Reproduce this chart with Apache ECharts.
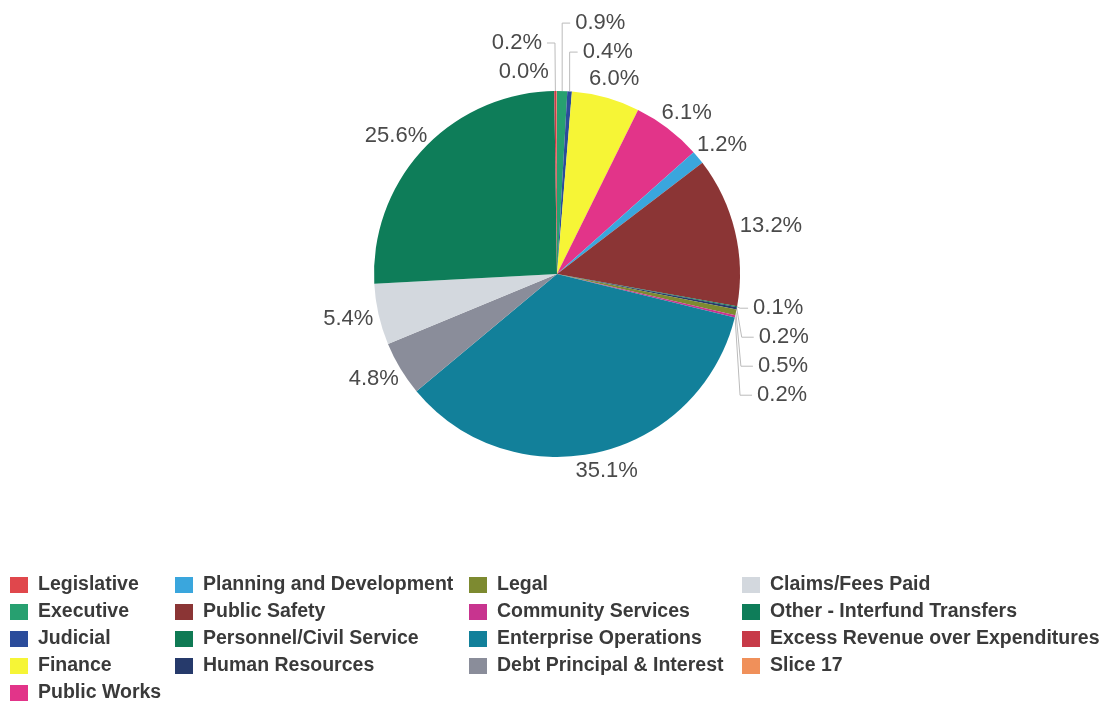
<!DOCTYPE html>
<html>
<head>
<meta charset="utf-8">
<script src="https://cdn.jsdelivr.net/npm/echarts@6/dist/echarts.min.js"></script>
<style>
  html, body { margin: 0; padding: 0; background: #fff; }
  #chart { width: 1108px; height: 706px; }
</style>
</head>
<body>
<div id="chart"></div>
<script>
// categories in legend order (clockwise from 12 o'clock)
var categories = [
  "Legislative", "Executive", "Judicial", "Finance", "Public Works",
  "Planning and Development", "Public Safety", "Personnel/Civil Service",
  "Human Resources", "Legal", "Community Services", "Enterprise Operations",
  "Debt Principal & Interest", "Claims/Fees Paid", "Other - Interfund Transfers",
  "Excess Revenue over Expenditures", "Slice 17"
];
// percent of total (Slice 17 shows as 0.0%)
var values = [0, 0.9, 0.4, 6.0, 6.1, 1.2, 13.2, 0.1, 0.2, 0.5, 0.2, 35.1, 4.8, 5.4, 25.6, 0.2, 0.04];
var colors = [
  "#e0474c", "#27a070", "#2b4c9b", "#f6f536", "#e23489",
  "#3aa6dd", "#8b3535", "#0f7a54", "#263a6b", "#7d8a30",
  "#c8348f", "#12809a", "#8a8d9a", "#d3d8de", "#0e7d59",
  "#c73a48", "#f0905a"
];
var legendCols = [
  categories.slice(0, 5),
  categories.slice(5, 9),
  categories.slice(9, 13),
  categories.slice(13, 17)
];

// pie geometry
var cx = 557, cy = 274, R = 183;

// leader lines for the crowded thin slices
var leaderLen = {
  "Executive": 68, "Judicial": 42,
  "Excess Revenue over Expenditures": 48, "Slice 17": 20
};
// elbow leaders: vertical run, then a short horizontal tick of this length
var elbow = {
  "Executive": 8, "Judicial": 8,
  "Human Resources": 12, "Legal": 12, "Community Services": 12
};
var noLabel = ["Legislative"];
var noLine = ["Slice 17"];

var pieData = categories.map(function (name, i) {
  var small = values[i] < 1;
  var show = noLabel.indexOf(name) < 0;
  return {
    name: name,
    value: values[i],
    itemStyle: { color: colors[i] },
    label: { show: show },
    labelLine: {
      show: show,
      length: leaderLen[name] || (small ? 8 : 12),
      length2: small ? 8 : 0,
      // big slices get no visible leader
      lineStyle: { opacity: small && noLine.indexOf(name) < 0 ? 1 : 0 }
    }
  };
});

function placeLabel(p) {
  var name = categories[p.dataIndex];
  var pts = p.labelLinePoints;
  if (!pts) return {};
  var p0 = pts[0];
  if (elbow[name]) {
    var y = pts[2][1];
    var xv = p0[0] + (p0[1] > cy ? 5 : 0);
    var x2 = xv + elbow[name];
    return {
      x: x2 + 5,
      align: "left",
      labelLinePoints: [[p0[0], p0[1]], [xv, y], [x2, y]]
    };
  }
  if (noLine.indexOf(name) >= 0) {
    return { x: p0[0] - 8, align: "right" };
  }
  if (values[p.dataIndex] >= 1) {
    // big-slice labels sit just outside the rim
    var s = (p0[0] - cx) / R;
    var c = (cy - p0[1]) / R;
    var w = p.labelRect.width;
    var h = p.labelRect.height;
    var mx = cx + (R + 6) * s + (w / 2) * s;
    var my = cy - (R + 6) * c - (h / 2) * c;
    return { x: mx - w / 2, y: my, align: "left", verticalAlign: "middle" };
  }
  return {};
}

var myChart = echarts.init(document.getElementById("chart"));

function legendCol(names, left) {
  return {
    orient: "vertical",
    left: left,
    top: 575,
    padding: 0,
    itemWidth: 18,
    itemHeight: 16,
    itemGap: 7,
    icon: "rect",
    selectedMode: false,
    data: names,
    textStyle: {
      fontFamily: "Liberation Sans, Arial, sans-serif",
      fontWeight: "bold",
      fontSize: 19.5,
      lineHeight: 20,
      color: "#3a3a3a",
      padding: [0, 0, 0, 5]
    }
  };
}

var option = {
  animation: false,
  legend: [
    legendCol(legendCols[0], 10),
    legendCol(legendCols[1], 175),
    legendCol(legendCols[2], 469),
    legendCol(legendCols[3], 742)
  ],
  series: [
    {
      type: "pie",
      center: [cx, cy],
      radius: R,
      startAngle: 90,
      clockwise: true,
      avoidLabelOverlap: true,
      labelLayout: placeLabel,
      itemStyle: { borderWidth: 0 },
      label: {
        position: "outside",
        fontFamily: "Liberation Sans, Arial, sans-serif",
        fontSize: 22,
        lineHeight: 27,
        color: "#4a4a4a",
        formatter: function (p) {
          return p.value.toFixed(1) + "%";
        }
      },
      labelLine: {
        lineStyle: { color: "#bbb", width: 1 }
      },
      data: pieData
    }
  ]
};

myChart.setOption(option);
</script>
</body>
</html>
